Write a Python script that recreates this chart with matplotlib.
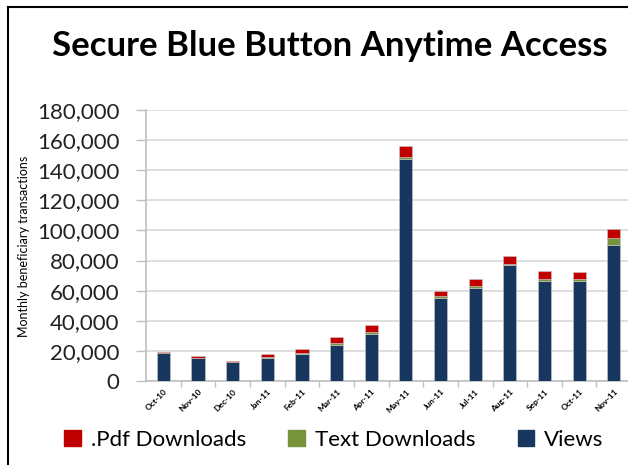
import numpy as np
import matplotlib.pyplot as plt
from matplotlib.lines import Line2D
from matplotlib.patches import Patch
from matplotlib.ticker import FuncFormatter

months = ["Oct-10", "Nov-10", "Dec-10", "Jan-11", "Feb-11", "Mar-11", "Apr-11",
          "May-11", "Jun-11", "Jul-11", "Aug-11", "Sep-11", "Oct-11", "Nov-11"]
views = [18500, 15100, 12400, 15300, 18000, 23800, 31300,
         147600, 55300, 62000, 76900, 66700, 66400, 90400]
text_downloads = [200, 200, 200, 600, 600, 1500, 1000,
                  1200, 1000, 800, 1000, 900, 1200, 4400]
pdf_downloads = [400, 1000, 700, 2300, 2700, 4000, 5000,
                 7600, 3700, 4800, 5200, 5300, 4800, 6100]

navy = "#17375E"
green = "#77933C"
red = "#C00000"

plt.rcParams["font.family"] = ["Lato", "DejaVu Sans"]

fig = plt.figure(figsize=(6.28, 4.65), dpi=100)
ax = fig.add_axes([146 / 628, 1 - 381 / 465, 482 / 628, 271 / 465])

x = np.arange(len(months))
w = 0.38
v = np.array(views)
t = np.array(text_downloads)
p = np.array(pdf_downloads)
ax.bar(x, v, w, color=navy, edgecolor="#c8c8c8", linewidth=0.4, zorder=3)
ax.bar(x, t, w, bottom=v, color=green, edgecolor="#c8c8c8", linewidth=0.4, zorder=3)
ax.bar(x, p, w, bottom=v + t, color=red, edgecolor="#c8c8c8", linewidth=0.4, zorder=3)

ax.set_ylim(0, 180000)
ax.set_xlim(-0.5, 13.41)
ax.set_yticks(np.arange(0, 180001, 20000))
ax.yaxis.set_major_formatter(FuncFormatter(lambda val, pos: f"{int(val):,}"))
ax.grid(axis="y", color="#d9d9d9", linewidth=1.2, zorder=0)
ax.set_axisbelow(True)

for side in ["top", "right"]:
    ax.spines[side].set_visible(False)
ax.spines["left"].set_color("#bfbfbf")
ax.spines["bottom"].set_color("#bfbfbf")
ax.spines["left"].set_linewidth(1.2)
ax.spines["bottom"].set_linewidth(1.2)

ax.tick_params(axis="y", labelsize=16, colors="#bfbfbf", labelcolor="#222222",
               length=7, width=1, pad=12)
ax.set_xticks(x)
ax.set_xticklabels(months, rotation=45, ha="right", rotation_mode="anchor",
                   fontsize=6, fontweight="bold")
ax.tick_params(axis="x", length=0, pad=5)
ax.set_xticks(np.arange(0.5, 13.5, 1), minor=True)
ax.tick_params(axis="x", which="minor", length=4, width=1, colors="#bfbfbf")

fig.text(24 / 628, 1 - 246 / 465, "Monthly beneficiary transactions",
         rotation=90, ha="center", va="center", fontsize=9)

fig.text(330 / 628, 1 - 46 / 465, "Secure Blue Button Anytime Access",
         ha="center", va="center", fontsize=25, fontweight="bold")

handles = [Patch(color=red), Patch(color=green), Patch(color=navy)]
fig.legend(handles, [".Pdf Downloads", "Text Downloads", "Views"],
           loc="center", bbox_to_anchor=(334 / 628, 1 - 440 / 465), ncol=3,
           frameon=False, fontsize=16, handlelength=0.75, handleheight=0.75,
           handletextpad=0.45, columnspacing=1.9)

fig.add_artist(Line2D([7.5 / 628, 7.5 / 628], [0, 1 - 7.5 / 465],
                      transform=fig.transFigure, color="black", linewidth=1.5))
fig.add_artist(Line2D([7.5 / 628, 1], [1 - 7.5 / 465, 1 - 7.5 / 465],
                      transform=fig.transFigure, color="black", linewidth=1.5))

fig.savefig("out.png", dpi=100)
